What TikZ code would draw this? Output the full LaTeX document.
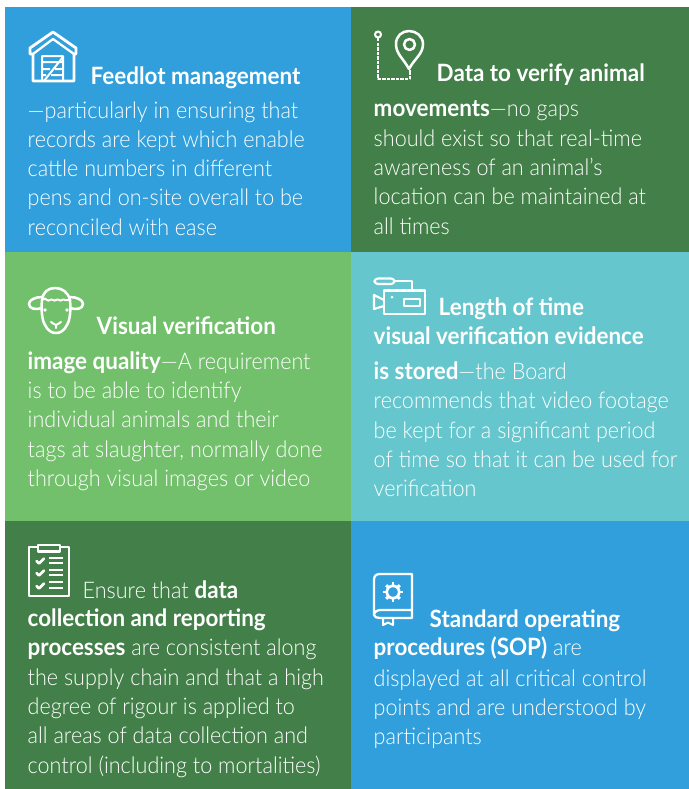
\documentclass[tikz,border=0pt]{standalone}
\usepackage{fontspec}
\setmainfont{Carlito}
\newfontfamily\lt[FakeStretch=0.94]{Lato Light}
\newfontfamily\bd[FakeStretch=0.94,Scale=1.04,BoldFont={Lato Bold}]{Lato}
\definecolor{cblue}{HTML}{319FDB}
\definecolor{cdark}{HTML}{437F48}
\definecolor{clight}{HTML}{72C06B}
\definecolor{cteal}{HTML}{66C6CD}
\newcommand{\B}[1]{{\bd\bfseries #1}}
\tikzset{
 txt/.style={anchor=base west,inner sep=0pt,text=white,yshift=-0.75pt,xshift=-0.4pt,font=\fontsize{17.2}{20}\selectfont\lt},
 icon/.style={draw=white,line width=1.9pt,line join=round,line cap=round},
 thin icon/.style={draw=white,line width=1.5pt,line join=round}
}
\begin{document}
\begin{tikzpicture}[x=0.75pt,y=-0.75pt]
\useasboundingbox (0,0) rectangle (689,789);
\fill[white] (0,0) rectangle (689,789);
\fill[cblue] (5,7) rectangle (351,252);
\fill[cdark] (351,7) rectangle (689,252);
\fill[clight] (5,252) rectangle (351,521);
\fill[cteal] (351,252) rectangle (689,521);
\fill[cdark] (5,521) rectangle (351,789);
\fill[cblue] (351,521) rectangle (689,789);
% panel 1
\node[txt] (a0) at (91,83) {\B{Feedlot management}};
\node[txt] (a1) at (28,117) {—particularly in ensuring that};
\node[txt] (a2) at (28,146) {records are kept which enable};
\node[txt] (a3) at (28,175) {cattle numbers in different};
\node[txt] (a4) at (28,204) {pens and on-site overall to be};
\node[txt] (a5) at (28,234) {reconciled with ease};
% panel 2
\node[txt] (b0) at (437,80) {\B{Data to verify animal}};
\node[txt] (b1) at (374,115) {\B{movements}—no gaps};
\node[txt] (b2) at (374,145) {should exist so that real-time};
\node[txt] (b3) at (374,174) {awareness of an animal’s};
\node[txt] (b4) at (374,203) {location can be maintained at};
\node[txt] (b5) at (374,233) {all times};
% panel 3
\node[txt] (c0) at (97,333) {\B{Visual verification}};
\node[txt] (c1) at (28,368) {\B{image quality}—A requirement};
\node[txt] (c2) at (28,397) {is to be able to identify};
\node[txt] (c3) at (28,426) {individual animals and their};
\node[txt] (c4) at (28,456) {tags at slaughter, normally done};
\node[txt] (c5) at (28,485) {through visual images or video};
% panel 4
\node[txt] (d0) at (439,314) {\B{Length of time}};
\node[txt] (d1) at (374,343) {\B{visual verification evidence}};
\node[txt] (d2) at (374,378) {\B{is stored}—the Board};
\node[txt] (d3) at (374,407) {recommends that video footage};
\node[txt] (d4) at (374,437) {be kept for a significant period};
\node[txt] (d5) at (374,466) {of time so that it can be used for};
\node[txt] (d6) at (374,495) {verification};
% panel 5
\node[txt] (e0) at (83,597) {Ensure that \B{data}};
\node[txt] (e1) at (28,625) {\B{collection and reporting}};
\node[txt] (e2) at (28,654) {\B{processes} are consistent along};
\node[txt] (e3) at (28,684) {the supply chain and that a high};
\node[txt] (e4) at (28,713) {degree of rigour is applied to};
\node[txt] (e5) at (28,742) {all areas of data collection and};
\node[txt] (e6) at (28,772) {control (including to mortalities)};
% panel 6
\node[txt] (f0) at (430,626) {\B{Standard operating}};
\node[txt] (f1) at (374,654) {\B{procedures (SOP)} are};
\node[txt] (f2) at (374,685) {displayed at all critical control};
\node[txt] (f3) at (374,714) {points and are understood by};
\node[txt] (f4) at (374,743) {participants};
% house
\draw[icon,line width=2.1pt,line cap=butt] (33,81) -- (33,54) -- (30,54) -- (30,48) -- (53,32) -- (76,48) -- (76,54) -- (74,54) -- (74,81) -- cycle;
\draw[icon,line width=1.7pt] (33,54) -- (53,39) -- (74,54);
\draw[thin icon] (42,81) -- (42,56) -- (63,56) -- (63,81)
 (42,62) -- (63,62) (42,69) -- (50,69) (55,69) -- (63,69) (42,75) -- (46,75) (51,75) -- (63,75)
 (44,81) -- (63,57);
% path + pin
\draw[icon,line width=1.5pt] (378,34.5) circle (3);
\draw[icon,line cap=butt,line width=1.7pt,dash pattern=on 2.6pt off 0.8pt] (378,38) -- (378,79) -- (410,79) -- (410,70);
\draw[icon] (409,69) .. controls (403,58) and (396,54) .. (396,44) .. controls (396,36) and (402,31) .. (409,31) .. controls (416,31) and (423,36) .. (423,44) .. controls (423,54) and (415,58) .. (409,69) -- cycle;
\draw[icon] (409.5,44.5) circle (5.5);
% sheep
\draw[icon] (42,300) .. controls (43,292) and (48,288) .. (55,288) .. controls (62,288) and (68,292) .. (70,300);
\draw[icon,line width=1.5pt] (42,300) .. controls (44,298) and (46,298) .. (47,300) .. controls (49,302) and (51,298) .. (53,300) .. controls (55,302) and (57,298) .. (59,300) .. controls (61,302) and (63,298) .. (65,300) .. controls (67,301) and (69,299) .. (70,300);
\draw[icon] (42,297) .. controls (35,297) and (29,300) .. (29,304) .. controls (29,309) and (36,310) .. (42,308);
\draw[icon] (70,297) .. controls (77,297) and (83,300) .. (83,304) .. controls (83,309) and (76,310) .. (70,308);
\draw[icon] (42,300) .. controls (41,310) and (42,320) .. (45,325) .. controls (48,331) and (52,333) .. (56,333) .. controls (60,333) and (64,331) .. (67,325) .. controls (70,320) and (71,310) .. (70,300);
\fill[white] (45,310) circle (1.8) (67,310) circle (1.8);
\draw[icon,line width=1.5pt] (51,322) .. controls (53,324) and (55,324) .. (56,325) .. controls (57,324) and (59,324) .. (61,322) (56,325) -- (56,328);
% camera
\draw[icon,line width=1.6pt,rounded corners=2.5pt] (374.5,278.5) rectangle (394.5,284);
\draw[icon,line width=1.6pt,line cap=butt] (395,281) -- (412,281) -- (412,290.5);
\draw[icon,line width=1.7pt,line cap=butt] (384,290.5) rectangle (425,314);
\draw[icon,line width=1.6pt,line cap=butt] (384,300) -- (374,295) -- (374,309) -- (384,306);
\fill[white] (392,297) circle (1.5);
\draw[icon,line width=1.5pt] (403.5,298.5) rectangle (420,306);
% clipboard
\draw[icon,line width=1.7pt,line cap=butt] (38,547) -- (29,547) -- (29,596) -- (69,596) -- (69,547) -- (60,547);
\draw[icon,line width=1.6pt] (38,545) rectangle (60,551.5);
\foreach \ya/\yb/\yc in {561/558/563,573/570/575,586/582/588}{
 \draw[icon,line width=1.9pt] (36.5,\ya) -- (39,\ya+2.5) -- (44,\ya-2.5);
 \draw[draw=white,line width=1.5pt] (49,\yb) -- (63,\yb) (49,\yc) -- (63,\yc);
}
% book
\draw[icon,line width=1.7pt] (412,610) -- (381,610) .. controls (377,610) and (374,612) .. (374,615) .. controls (374,617) and (377,618) .. (380,618) -- (412,618) -- (412,574) -- (380,574) .. controls (376,574) and (374,576) .. (374,580) -- (374,615);
\draw[icon,line width=1.5pt,line cap=butt] (383,618) -- (383,625) -- (388,622.5) -- (393,625) -- (393,618);
\draw[draw=white,line width=2pt] (393,592) circle (6.2);
\foreach \a in {0,45,...,315}{
 \draw[draw=white,line width=2.2pt] (393,592) ++(\a:6.5) -- ++(\a:3.2);
}
\end{tikzpicture}
\end{document}
